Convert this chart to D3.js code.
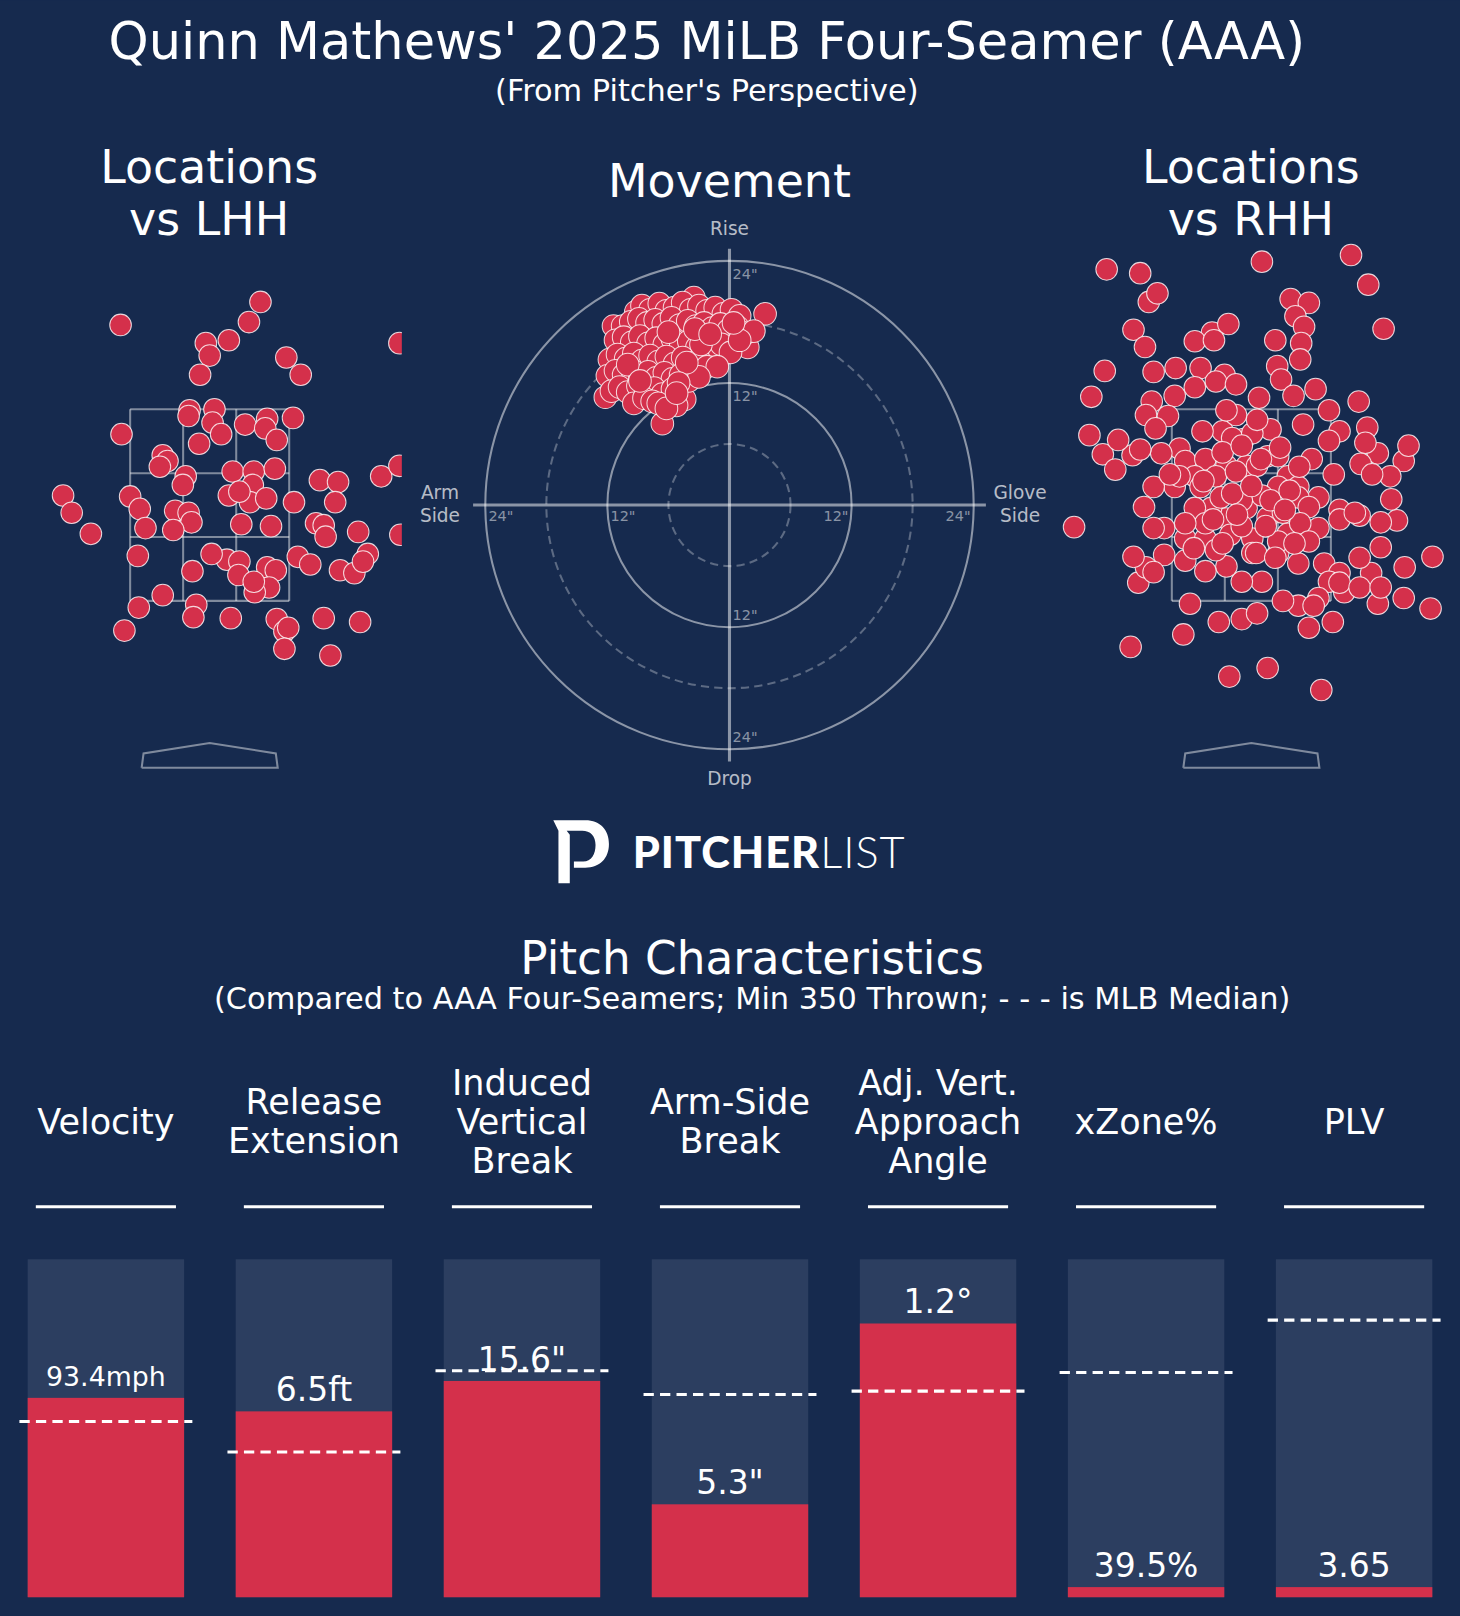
<!DOCTYPE html>
<html><head><meta charset="utf-8">
<script src="https://cdn.jsdelivr.net/npm/d3@7"></script>
<style>body{margin:0;background:#162a4e;}svg{display:block;font-family:"DejaVu Sans",sans-serif;}</style>
</head><body>
<script>
// locations in feet (plate x, height), vs LHH
const lhhX = [-0.93,0.53,0.41,-0.04,0.2,0,-0.1,0.8,0.95,1.98,-0.21,0.05,-0.22,0.03,-0.11,0.12,0.37,0.6,0.58,0.87,0.7,-0.92,-0.49,-0.44,-0.52,-0.25,-0.28,0.24,0.46,0.68,0.45,0.2,0.42,0.59,0.31,-1.53,-1.44,-1.24,-0.83,-0.73,-0.67,-0.36,-0.22,-0.19,-0.38,0.33,0.64,0.88,1.15,1.34,1.31,1.11,1.19,1.21,1.55,1.79,1.98,1.99,-0.75,-0.18,0.18,0.31,0.3,0.6,0.69,0.92,1.05,1.36,1.51,1.65,1.6,0.62,0.47,-0.74,-0.49,-0.14,-0.17,0.22,0.7,0.78,0.82,1.19,1.57,-0.89,0.78,1.26,0.46,0.02];
const lhhY = [4.38,4.62,4.41,4.19,4.22,4.06,3.86,4.04,3.86,4.19,3.49,3.5,3.43,3.36,3.14,3.24,3.34,3.4,3.3,3.41,3.18,3.24,3.02,2.96,2.9,2.8,2.71,2.85,2.85,2.88,2.71,2.6,2.53,2.57,2.64,2.6,2.42,2.2,2.59,2.46,2.26,2.44,2.42,2.32,2.24,2.3,2.28,2.53,2.76,2.74,2.53,2.31,2.29,2.17,2.22,2.8,2.91,2.19,1.97,1.81,1.93,1.91,1.77,1.85,1.82,1.96,1.88,1.82,1.79,1.99,1.91,1.64,1.59,1.43,1.56,1.46,1.33,1.32,1.31,1.18,1.22,1.32,1.28,1.19,1.0,0.93,1.7,1.99];
// vs RHH
const rhhX = [-1.51,-1.16,-1.07,-0.98,0.11,1.04,1.22,1.38,-1.23,-1.11,-1.53,-1.67,-1.69,-1.55,-1.42,-1.85,-1.26,-0.71,-0.23,0.17,0.73,-0.34,-0.1,0.6,0.85,-0.64,-1.18,-1.1,1.87,1.89,1.6,1.59,1.32,1.25,1.52,1.59,1.64,1.12,1.45,-0.41,-0.24,-0.59,-0.39,0.41,0.6,0.46,0.55,0.25,0.52,0.27,0.51,-0.79,-0.53,-0.28,-1.02,-1.04,-0.8,-1.1,-0.87,-0.59,-0.37,-0.16,0.08,0.31,0.44,0.67,0.81,0.92,0.54,0.81,1.21,1.32,1.14,1.26,0.86,0.63,0.2,-0.08,-0.3,-0.51,-0.75,-0.94,-1.24,-1.39,-0.69,-0.48,-0.26,-0.05,0.17,0.38,0.49,0.7,0.92,1.13,1.35,0.92,0.7,0.38,0.17,-0.05,-0.26,-0.42,-0.59,-0.8,-1.02,-1.12,-0.91,-0.69,-0.48,-0.22,0.01,0.28,0.49,0.76,0.92,1.13,1.35,0.11,-0.1,-0.26,-0.48,-0.69,-0.91,-1.02,-0.59,-0.37,-0.16,0.06,0.28,0.49,0.33,0.11,-0.1,-0.32,-0.53,-0.75,0.6,0.81,0.97,0.7,0.49,0.06,0.33,0.92,0.65,1.13,-0.2,0.01,-0.16,0.06,-0.26,-1.0,-1.16,-0.85,1.19,1.46,1.08,0.28,0.51,-0.37,-0.1,0.28,0.01,-0.48,-0.69,-1.23,-1.02,1.35,-0.3,-0.1,0.1,0.3,0.5,-0.5,-0.2,0.0,0.2,0.4,-0.4,-0.15,0.15,0.35,0.6,-0.6,-0.3,0.05,0.25,0.45];
const rhhY = [4.96,4.92,4.62,4.71,5.04,5.11,4.8,4.34,4.33,4.15,3.9,3.63,3.23,3.03,2.87,2.27,1.02,1.15,0.71,0.8,0.57,1.28,1.31,1.22,1.28,1.47,1.69,1.85,1.42,1.96,1.85,1.53,1.47,1.79,2.34,2.96,3.12,3.58,2.8,4.3,4.39,4.21,4.22,4.65,4.61,4.47,4.36,4.22,4.19,3.95,4.02,3.93,3.93,3.86,3.89,3.58,3.64,3.44,3.43,3.73,3.79,3.76,3.62,3.81,3.64,3.71,3.49,3.27,3.34,3.17,3.31,3.04,2.93,2.82,2.82,2.98,3.29,3.19,3.27,3.27,3.09,3.04,3.02,3.18,2.96,2.98,2.91,2.91,3.01,2.8,2.69,2.58,2.45,2.39,2.32,2.35,2.26,2.2,2.37,2.47,2.36,2.47,2.47,2.69,2.69,2.48,2.26,2.15,2.15,2.19,2.15,2.0,1.89,1.89,1.79,1.95,2.06,1.7,1.7,1.86,1.81,1.92,1.98,2.26,2.8,2.8,2.85,2.91,2.69,2.58,2.42,2.6,2.55,2.58,2.69,2.8,2.48,1.7,1.59,1.53,1.45,1.37,1.5,1.69,1.45,1.64,3.2,3.25,3.44,3.39,3.49,3.3,3.08,2.82,3.15,2.56,2.42,3.01,2.31,2.03,2.28,2.12,2.0,2.31,2.31,1.96,1.8,1.64,3.05,3.12,2.98,3.1,2.9,2.75,2.62,2.7,2.55,2.65,2.35,2.4,2.28,2.45,2.12,2.05,2.1,2.0,1.95,2.1];
// movement in inches (horizontal break, induced vertical break)
const mvX = [-3.5,3.5,-11.4,-12.2,-6.6,-4.4,-0.8,1.8,-9.2,-8.6,-7.8,-6.9,-6.2,-5.4,-4.6,-3.8,-3.0,-2.2,-1.4,-0.6,0.2,1.0,-10.5,-9.7,-8.9,-8.1,-7.3,-6.5,-5.7,-4.9,-4.1,-3.3,-2.5,-1.7,-0.9,-0.1,0.8,1.6,2.4,-11.2,-10.4,-9.6,-8.8,-8.0,-7.2,-6.4,-5.6,-4.8,-4.0,-3.2,-2.4,-1.6,-0.8,0.1,1.0,-11.8,-11.0,-10.2,-9.4,-8.6,-7.8,-7.0,-6.2,-5.4,-4.6,-3.8,-3.0,-2.2,-1.2,-12.0,-11.2,-10.4,-9.6,-8.8,-8.0,-7.2,-6.4,-5.6,-4.8,-4.0,-3.0,-11.6,-10.8,-10.0,-9.0,-8.2,-7.4,-6.6,-5.6,-9.4,-8.4,-7.6,-5.2,-2.8,-6.0,-4.2,-5.0,-7.0,-3.4,-1.9,0.4,-10.0,-8.8,-6.2,-5.2];
const mvY = [20.4,18.8,17.6,10.6,8.0,10.4,14.7,15.5,19.0,19.6,19.2,19.8,19.1,19.4,19.9,19.2,19.6,19.1,19.4,18.8,19.2,18.6,17.6,18.0,18.3,17.9,18.2,17.8,18.4,17.7,18.1,17.6,17.9,17.4,17.8,17.2,17.5,16.9,17.1,16.2,16.5,16.0,16.6,15.9,16.4,15.8,16.3,15.6,16.1,15.5,16.0,15.2,15.8,15.0,16.2,14.3,14.8,14.4,14.9,14.2,14.7,14.1,14.6,13.9,14.5,13.8,14.3,13.6,13.6,12.7,13.2,12.8,13.3,12.6,13.1,12.5,13.0,12.4,12.8,12.2,12.6,11.2,11.6,11.1,11.7,11.0,11.5,10.9,11.4,10.0,10.5,10.2,9.8,15.8,17.0,14.0,12.0,10.0,17.3,16.8,17.9,13.8,12.2,9.5,11.0];
// pitch characteristics
const metrics = ["Velocity", "Release\nExtension", "Induced\nVertical\nBreak", "Arm-Side\nBreak", "Adj. Vert.\nApproach\nAngle", "xZone%", "PLV"];
const valueLabels = ["93.4mph", "6.5ft", "15.6\"", "5.3\"", "1.2°", "39.5%", "3.65"];
const percentiles = [0.59, 0.55, 0.64, 0.275, 0.81, 0.03, 0.03];
const medians = [0.52, 0.43, 0.67, 0.60, 0.61, 0.665, 0.82];

const W = 1417, H = 1568;
const BG = "#162a4e", RED = "#d4304b", BARBG = "#2c3e60";
const svg = d3.select("body").append("svg")
  .attr("width", 1460).attr("height", 1616)
  .attr("viewBox", `0 0 ${W} ${H}`);
svg.append("rect").attr("width", W).attr("height", H).attr("fill", BG);

function txt(x, y, s, size, opts = {}) {
  return svg.append("text").attr("x", x).attr("y", y).attr("text-anchor", opts.anchor || "middle")
    .attr("fill", opts.fill || "#fff").attr("font-size", size).attr("font-weight", opts.weight || "normal")
    .attr("dominant-baseline", "central").text(s);
}
txt(686, 40, "Quinn Mathews' 2025 MiLB Four-Seamer (AAA)", 49.5);
txt(686, 88, "(From Pitcher's Perspective)", 29.5);
txt(203, 162, "Locations", 44.5); txt(203, 212, "vs LHH", 44.5);
txt(1214, 162, "Locations", 44.5); txt(1214, 212, "vs RHH", 44.5);
txt(708, 175, "Movement", 44.5);

// location panels
const lineC = "rgba(255,255,255,0.45)";
function locPanel(cx, xs, ys, clipId, clipX, clipW) {
  const x = d3.scaleLinear().domain([-1, 1]).range([cx - 93, cx + 93]);
  const y = d3.scaleLinear().domain([0, 3.5]).range([722.5, 397]);
  const g = svg.append("g");
  [-0.83, -0.277, 0.277, 0.83].forEach(v => g.append("line").attr("x1", x(v)).attr("x2", x(v))
    .attr("y1", y(3.5)).attr("y2", y(1.5)).attr("stroke", lineC).attr("stroke-width", 2));
  [3.5, 2.833, 2.167, 1.5].forEach(v => g.append("line").attr("y1", y(v)).attr("y2", y(v))
    .attr("x1", x(-0.83)).attr("x2", x(0.83)).attr("stroke", lineC).attr("stroke-width", 2));
  g.append("path").attr("d", d3.line()([[x(-0.71), 745], [x(-0.69), 731], [x(0), 721], [x(0.69), 731], [x(0.71), 745], [x(-0.71), 745]]))
    .attr("fill", "none").attr("stroke", lineC).attr("stroke-width", 2);
  svg.append("clipPath").attr("id", clipId).append("rect").attr("x", clipX).attr("y", 230).attr("width", clipW).attr("height", 470);
  svg.append("g").attr("clip-path", `url(#${clipId})`).selectAll("circle").data(xs.map((v, i) => [v, ys[i]]))
    .join("circle").attr("cx", d => x(d[0])).attr("cy", d => y(d[1])).attr("r", 10.5)
    .attr("fill", RED).attr("stroke", "rgba(255,255,255,0.8)").attr("stroke-width", 1);
}
locPanel(203.5, lhhX, lhhY, "clipL", 0, 390);
locPanel(1214.5, rhhX, rhhY, "clipR", 1020, 397);

// movement polar
const mx = d3.scaleLinear().domain([-24, 24]).range([708 - 237, 708 + 237]);
const my = d3.scaleLinear().domain([-24, 24]).range([490 + 237, 490 - 237]);
const pr = v => mx(v) - mx(0);
const mg = svg.append("g");
[[24, false], [18, true], [12, false], [6, true]].forEach(([r, dash]) => mg.append("circle")
  .attr("cx", mx(0)).attr("cy", my(0)).attr("r", pr(r)).attr("fill", "none")
  .attr("stroke", dash ? "rgba(255,255,255,0.3)" : "rgba(255,255,255,0.5)").attr("stroke-width", 2)
  .attr("stroke-dasharray", dash ? "8,5" : null));
mg.append("line").attr("x1", mx(-25.2)).attr("x2", mx(25.2)).attr("y1", my(0)).attr("y2", my(0)).attr("stroke", "rgba(255,255,255,0.5)").attr("stroke-width", 3);
mg.append("line").attr("x1", mx(0)).attr("x2", mx(0)).attr("y1", my(25.2)).attr("y2", my(-25.2)).attr("stroke", "rgba(255,255,255,0.5)").attr("stroke-width", 3);
const tc = "rgba(255,255,255,0.5)";
[24, 12, -12, -24].forEach(v => txt(mx(0) + 3, my(v) + (v > 0 ? 13 : -12), Math.abs(v) + '"', 14, { anchor: "start", fill: tc }));
[-24, -12, 12, 24].forEach(v => txt(v < 0 ? mx(v) + 3 : mx(v) - 3, my(0) + 11, Math.abs(v) + '"', 14, { anchor: v < 0 ? "start" : "end", fill: tc }));
const lc = "rgba(255,255,255,0.7)";
txt(708, 222, "Rise", 18, { fill: lc }); txt(708, 755, "Drop", 18, { fill: lc });
txt(427, 478, "Arm", 18, { fill: lc }); txt(427, 500, "Side", 18, { fill: lc });
txt(990, 478, "Glove", 18, { fill: lc }); txt(990, 500, "Side", 18, { fill: lc });
mg.selectAll(".mv").data(mvX.map((v, i) => [v, mvY[i]])).join("circle")
  .attr("cx", d => mx(d[0])).attr("cy", d => my(d[1])).attr("r", 11)
  .attr("fill", RED).attr("stroke", "rgba(255,255,255,0.8)").attr("stroke-width", 1);

// logo
const lg = svg.append("g").attr("fill", "#fff");
lg.append("path").attr("d", "M537,796 L568,796 C583,796 591,806 591,819 C591,833 582,842 568,842 L557,842 L557,836 L566,836 C574,836 578,829 578,820 C578,811 573,806 565,806 L550,806 L553,810 L553,857 L542,857 L542,806 Z");
svg.append("text").attr("x", 614).attr("y", 842).attr("fill", "#fff").attr("font-size", 42)
  .attr("font-family", "Lato, 'DejaVu Sans', sans-serif").attr("letter-spacing", 1)
  .html('<tspan font-weight="900">PITCHER</tspan><tspan font-weight="300">LIST</tspan>');

// pitch characteristics
txt(730, 930, "Pitch Characteristics", 44);
txt(730, 969, "(Compared to AAA Four-Seamers; Min 350 Thrown; - - - is MLB Median)", 29.5);
const bx = d3.scaleBand().domain(metrics).range([0, 1417]).paddingInner(0.248).paddingOuter(0.133);
const by = d3.scaleLinear().domain([0, 1]).range([1550, 1222]);
metrics.forEach((m, i) => {
  const x0 = bx(m), bw = bx.bandwidth(), cx = x0 + bw / 2;
  const lines = m.split("\n");
  lines.forEach((l, j) => txt(cx, 1088 + (j - (lines.length - 1) / 2) * 38, l, 34));
  svg.append("line").attr("x1", cx - 68).attr("x2", cx + 68).attr("y1", 1171).attr("y2", 1171).attr("stroke", "#fff").attr("stroke-width", 3);
  svg.append("rect").attr("x", x0).attr("y", by(1)).attr("width", bw).attr("height", by(0) - by(1)).attr("fill", BARBG);
  svg.append("rect").attr("x", x0).attr("y", by(percentiles[i])).attr("width", bw).attr("height", by(0) - by(percentiles[i])).attr("fill", RED);
  svg.append("line").attr("x1", x0 - 8).attr("x2", x0 + bw + 8).attr("y1", by(medians[i])).attr("y2", by(medians[i]))
    .attr("stroke", "#fff").attr("stroke-width", 3).attr("stroke-dasharray", "10,6");
  txt(cx, by(percentiles[i]) - 21, valueLabels[i], i === 0 ? 26 : 32);
});
</script>
</body></html>
